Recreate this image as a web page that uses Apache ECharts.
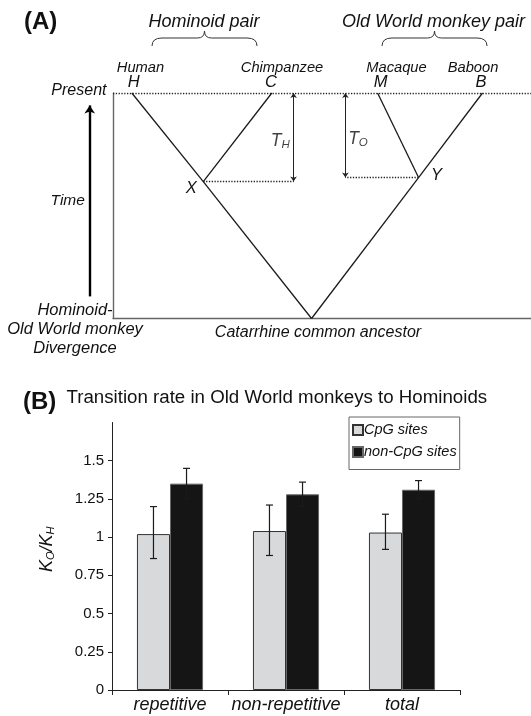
<!DOCTYPE html>
<html><head><meta charset="utf-8">
<script src="https://cdn.jsdelivr.net/npm/echarts@6/dist/echarts.min.js"></script>
<style>html,body{margin:0;padding:0;background:#fff}#c{width:531px;height:716px}</style>
</head><body><div id="c"></div>
<script>
// ---------- Panel A data (x: horizontal units 0-100, time: 1 = present, 0 = divergence) ----------
var treeNodeNames = ['H', 'C', 'M', 'B', 'X', 'Y', 'A'];
var treeNodeX = [4.5, 38.0, 63.3, 88.4, 21.6, 73.1, 47.5];
var treeNodeTime = [1, 1, 1, 1, 0.607, 0.625, 0];
var treeEdges = [['H', 'X'], ['C', 'X'], ['X', 'A'], ['M', 'Y'], ['B', 'Y'], ['Y', 'A']];
var intervalArrowX = [43.2, 55.6];          // T_H, T_O measuring arrows
var intervalFrom = ['X', 'Y'];
var intervalSub = ['H', 'O'];
var intervalLabelPos = [[40.0, 0.787], [58.6, 0.796]];
var timeArrow = [[-5.57, 0.098], [-5.57, 0.945]];

// ---------- Panel B data ----------
var categories = ['repetitive', 'non-repetitive', 'total'];
var seriesNames = ['CpG sites', 'non-CpG sites'];
var cpgValues = [1.02, 1.04, 1.03];
var cpgLow = [0.86, 0.88, 0.92];
var cpgHigh = [1.20, 1.21, 1.15];
var nonCpgValues = [1.35, 1.28, 1.31];
var nonCpgLow = [1.25, 1.20, 1.25];
var nonCpgHigh = [1.45, 1.36, 1.37];
var yTicks = [0, 0.25, 0.5, 0.75, 1, 1.25, 1.5];

var FF = '"Liberation Sans", Arial, Helvetica, sans-serif';
var labelOffsets = { H: [2, -11], C: [-1, -11], M: [3, -11], B: [-1.5, -11], X: [-12, 7], Y: [18, -2.5] };

function nodeIndex(n) { return treeNodeNames.indexOf(n); }
function nodePos(n) { var i = nodeIndex(n); return [treeNodeX[i], treeNodeTime[i]]; }

var graphNodes = treeNodeNames.map(function (n, i) {
  var off = labelOffsets[n];
  return {
    name: n, value: [treeNodeX[i], treeNodeTime[i]],
    label: off ? { show: true, position: 'inside', offset: off } : { show: false }
  };
});
var graphLinks = treeEdges.map(function (e) { return { source: e[0], target: e[1] }; });

var dottedSegs = [{ coords: [[0, 1], [100, 1]] }];
var arrowSegs = [];
intervalArrowX.forEach(function (x, i) {
  var p = nodePos(intervalFrom[i]);
  dottedSegs.push({ coords: [p, [x, p[1]]] });
  arrowSegs.push({ coords: [[x, 1], [x, p[1]]] });
});

function brace(cx, hw, yTip, yEnd) {
  var yb = yTip + 7;
  var st = { stroke: '#333', fill: null, lineWidth: 1 };
  function bz(x1, y1, cx1, cy1, x2, y2) {
    return { type: 'bezierCurve', shape: { x1: x1, y1: y1, cpx1: cx1, cpy1: cy1, x2: x2, y2: y2 }, style: st };
  }
  function ln(x1, y1, x2, y2) { return { type: 'line', shape: { x1: x1, y1: y1, x2: x2, y2: y2 }, style: st }; }
  return { type: 'group', children: [
    bz(cx - hw, yEnd, cx - hw, yb, cx - hw + 10, yb),
    ln(cx - hw + 10, yb, cx - 7, yb),
    bz(cx - 7, yb, cx, yb, cx, yTip),
    bz(cx, yTip, cx, yb, cx + 7, yb),
    ln(cx + 7, yb, cx + hw - 10, yb),
    bz(cx + hw - 10, yb, cx + hw, yb, cx + hw, yEnd)
  ] };
}

function txt(x, y, text, font, align, extra) {
  var st = { text: text, font: font, textAlign: align || 'center', textVerticalAlign: 'middle', fill: '#111' };
  if (extra) for (var k in extra) st[k] = extra[k];
  return { type: 'text', x: x, y: y, style: st, z: 10 };
}

function errRender(sign) {
  return function (params, api) {
    var c = api.value(0), lo = api.value(1), hi = api.value(2);
    var band = api.size([1, 0])[0];
    var bw = band * (1 - 0.43) / 2;
    var off = sign * bw / 2;
    var top = api.coord([c, hi]), bot = api.coord([c, lo]);
    var x = top[0] + off, cap = 3.5;
    var st = { stroke: '#1a1a1a', lineWidth: 1.2 };
    return {
      type: 'group', children: [
        { type: 'line', shape: { x1: x, y1: top[1], x2: x, y2: bot[1] }, style: st },
        { type: 'line', shape: { x1: x - cap, y1: top[1], x2: x + cap, y2: top[1] }, style: st },
        { type: 'line', shape: { x1: x - cap, y1: bot[1], x2: x + cap, y2: bot[1] }, style: st }
      ]
    };
  };
}

var chart = echarts.init(document.getElementById('c'));
chart.setOption({
  animation: false,
  textStyle: { fontFamily: FF },
  grid: [
    { left: 113, right: 0, top: 93, bottom: 397.5 },
    { left: 112, right: 71, top: 422.5, bottom: 26 }
  ],
  xAxis: [
    { gridIndex: 0, type: 'value', min: 0, max: 100, axisLine: { show: true, lineStyle: { color: '#666', width: 1.4 } },
      axisTick: { show: false }, axisLabel: { show: false }, splitLine: { show: false } },
    { gridIndex: 1, type: 'category', data: categories,
      axisLine: { lineStyle: { color: '#222', width: 1 } },
      axisTick: { show: true, length: 5, lineStyle: { color: '#222' } },
      axisLabel: { interval: 0, margin: 6, fontSize: 18, fontStyle: 'italic', color: '#111', fontFamily: FF } }
  ],
  yAxis: [
    { gridIndex: 0, type: 'value', min: 0, max: 1, axisLine: { show: true, onZero: false, lineStyle: { color: '#666', width: 1.4 } },
      axisTick: { show: false }, axisLabel: { show: false }, splitLine: { show: false } },
    { gridIndex: 1, type: 'value', min: 0, max: 1.75, interval: 0.25,
      axisLine: { show: true, lineStyle: { color: '#222', width: 1 } },
      axisTick: { show: true, length: 4, customValues: yTicks, lineStyle: { color: '#222' } },
      axisLabel: { margin: 8, fontSize: 15, color: '#111', fontFamily: FF, customValues: yTicks },
      splitLine: { show: false },
      name: '{k|K}{s|O}{k|/K}{s|H}', nameLocation: 'middle', nameRotate: 90, nameGap: 56,
      nameTextStyle: { padding: [0, 0, 0, 14], rich: {
        k: { fontSize: 18, fontStyle: 'italic', fontFamily: FF, color: '#111' },
        s: { fontSize: 11, fontStyle: 'italic', fontFamily: FF, color: '#111', padding: [8, 0, 0, 0] }
      } } }
  ],
  legend: {
    data: seriesNames, orient: 'vertical', left: 349, top: 417, selectedMode: false,
    itemWidth: 10, itemHeight: 10, itemGap: 7, icon: 'rect',
    padding: [5.5, 3, 10, 3], borderColor: '#666', borderWidth: 1,
    textStyle: { fontSize: 14.5, fontStyle: 'italic', fontFamily: FF, color: '#111', padding: [0, 0, 0, -4] }
  },
  graphic: [
    txt(24, 22, '(A)', 'bold 24px ' + FF, 'left'),
    txt(204, 22, 'Hominoid pair', 'italic 18px ' + FF),
    txt(433.5, 22, 'Old World monkey pair', 'italic 18px ' + FF),
    brace(204.5, 52.5, 31, 46),
    brace(434.5, 52.5, 31, 46),
    txt(140.5, 68, 'Human', 'italic 14.7px ' + FF),
    txt(282, 68, 'Chimpanzee', 'italic 14.7px ' + FF),
    txt(396.5, 68, 'Macaque', 'italic 14.7px ' + FF),
    txt(473, 68, 'Baboon', 'italic 14.7px ' + FF),
    txt(106.5, 91, 'Present', 'italic 16px ' + FF, 'right'),
    txt(67.7, 201, 'Time', 'italic 15.5px ' + FF),
    txt(75, 329, 'Hominoid-\nOld World monkey\nDivergence', 'italic 16.5px ' + FF, 'center', { lineHeight: 19 }),
    txt(318, 333, 'Catarrhine common ancestor', 'italic 16px ' + FF),
    txt(23, 402, '(B)', 'bold 24px ' + FF, 'left'),
    txt(66.5, 398, 'Transition rate in Old World monkeys to Hominoids', '18.7px ' + FF, 'left')
  ],
  series: [
    { type: 'graph', coordinateSystem: 'cartesian2d', xAxisIndex: 0, yAxisIndex: 0, layout: 'none',
      symbol: 'circle', symbolSize: 1, itemStyle: { color: 'rgba(0,0,0,0)' },
      data: graphNodes, links: graphLinks,
      lineStyle: { color: '#1a1a1a', width: 1.3, opacity: 1, curveness: 0 },
      label: { show: true, formatter: '{b}', fontSize: 16.5, fontStyle: 'italic', color: '#111', fontFamily: FF },
      emphasis: { disabled: true }, silent: true, z: 3 },
    { type: 'lines', coordinateSystem: 'cartesian2d', xAxisIndex: 0, yAxisIndex: 0,
      data: dottedSegs, lineStyle: { color: '#222', width: 1.3, type: [1.3, 1.5], opacity: 1 }, silent: true, z: 2 },
    { type: 'lines', coordinateSystem: 'cartesian2d', xAxisIndex: 0, yAxisIndex: 0,
      data: arrowSegs, symbol: ['arrow', 'arrow'], symbolSize: 5,
      lineStyle: { color: '#222', width: 1, opacity: 1 }, silent: true, z: 2 },
    { type: 'lines', coordinateSystem: 'cartesian2d', xAxisIndex: 0, yAxisIndex: 0, clip: false,
      data: [{ coords: timeArrow }], symbol: ['none', 'arrow'], symbolSize: 8,
      lineStyle: { color: '#000', width: 2.4, opacity: 1 }, silent: true, z: 2 },
    { type: 'scatter', xAxisIndex: 0, yAxisIndex: 0, clip: false, symbolSize: 0, silent: true,
      data: intervalLabelPos.map(function (p, i) { return [p[0], p[1], intervalSub[i]]; }),
      label: { show: true, position: 'inside', color: '#111',
        formatter: function (p) { return '{t|T}{s|' + p.value[2] + '}'; },
        rich: { t: { fontSize: 17.5, fontStyle: 'italic', fontFamily: FF, color: '#111' },
                s: { fontSize: 11.5, fontStyle: 'italic', fontFamily: FF, color: '#111', padding: [8, 0, 0, 0] } } } },
    { name: seriesNames[0], type: 'bar', xAxisIndex: 1, yAxisIndex: 1, data: cpgValues,
      barCategoryGap: '43%', barGap: '0%',
      itemStyle: { color: '#d8d9db', borderColor: '#333', borderWidth: 1 } },
    { name: seriesNames[1], type: 'bar', xAxisIndex: 1, yAxisIndex: 1, data: nonCpgValues,
      barCategoryGap: '43%', barGap: '0%',
      itemStyle: { color: '#151515', borderColor: '#666', borderWidth: 1 } },
    { type: 'custom', xAxisIndex: 1, yAxisIndex: 1, renderItem: errRender(-1), z: 5, silent: true,
      data: categories.map(function (c, i) { return [i, cpgLow[i], cpgHigh[i]]; }), encode: { x: 0, y: [1, 2] } },
    { type: 'custom', xAxisIndex: 1, yAxisIndex: 1, renderItem: errRender(1), z: 5, silent: true,
      data: categories.map(function (c, i) { return [i, nonCpgLow[i], nonCpgHigh[i]]; }), encode: { x: 0, y: [1, 2] } }
  ]
});
</script></body></html>
